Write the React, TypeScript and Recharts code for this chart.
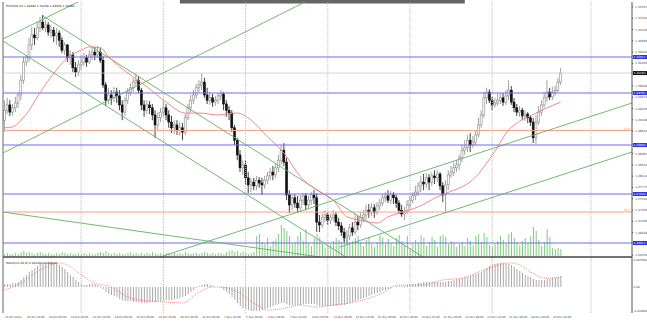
import React from 'react';
import { ComposedChart, Bar, Line, XAxis, YAxis, ReferenceLine, ReferenceArea } from 'recharts';

// ---------- DATA ----------
const SYMBOL_TITLE = 'EURUSD,H4 1.29990 1.30290 1.29930 1.30180';
const MACD_TITLE = 'MACD(12,26,9) 0.002200 0.002000';

// H4 bars, [open, high, low, close]; bar 0 = 15 Oct 2012 08:00
const OHLC: [number, number, number, number][] = [
  [1.2919,1.2961,1.2894,1.2940],[1.2940,1.2966,1.2932,1.2951],[1.2951,1.2961,1.2928,1.2936],[1.2936,1.2953,1.2928,1.2945],
  [1.2945,1.2968,1.2936,1.2955],[1.2955,1.2978,1.2945,1.2972],[1.2972,1.3014,1.2961,1.3003],[1.3003,1.3052,1.2995,1.3041],
  [1.3041,1.3056,1.3033,1.3050],[1.3050,1.3092,1.3041,1.3077],[1.3077,1.3115,1.3066,1.3098],[1.3098,1.3113,1.3077,1.3092],
  [1.3092,1.3125,1.3087,1.3113],[1.3113,1.3136,1.3104,1.3125],[1.3125,1.3140,1.3108,1.3113],[1.3113,1.3129,1.3104,1.3119],
  [1.3119,1.3125,1.3096,1.3104],[1.3104,1.3119,1.3092,1.3108],[1.3108,1.3115,1.3083,1.3096],[1.3096,1.3113,1.3077,1.3102],
  [1.3102,1.3108,1.3073,1.3087],[1.3087,1.3094,1.3060,1.3066],[1.3066,1.3083,1.3056,1.3077],[1.3077,1.3079,1.3041,1.3050],
  [1.3050,1.3066,1.3035,1.3056],[1.3056,1.3062,1.3020,1.3029],[1.3029,1.3041,1.3010,1.3020],[1.3020,1.3045,1.3012,1.3035],
  [1.3035,1.3056,1.3024,1.3041],[1.3041,1.3060,1.3033,1.3050],[1.3050,1.3056,1.3031,1.3041],[1.3041,1.3066,1.3037,1.3056],
  [1.3056,1.3071,1.3045,1.3062],[1.3062,1.3073,1.3045,1.3056],[1.3056,1.3075,1.3050,1.3062],[1.3062,1.3071,1.3039,1.3045],
  [1.3045,1.3054,1.2987,1.2993],[1.2993,1.2999,1.2949,1.2961],[1.2961,1.2987,1.2953,1.2972],[1.2972,1.2982,1.2951,1.2966],
  [1.2966,1.2989,1.2957,1.2978],[1.2978,1.2987,1.2955,1.2970],[1.2970,1.2982,1.2940,1.2951],[1.2951,1.2961,1.2919,1.2936],
  [1.2936,1.2968,1.2928,1.2961],[1.2961,1.2987,1.2953,1.2978],[1.2978,1.2997,1.2970,1.2987],[1.2987,1.3008,1.2978,1.2999],
  [1.2999,1.3018,1.2991,1.3003],[1.3003,1.3012,1.2976,1.2982],[1.2982,1.2987,1.2940,1.2951],[1.2951,1.2961,1.2926,1.2940],
  [1.2940,1.2961,1.2932,1.2951],[1.2951,1.2959,1.2932,1.2945],[1.2945,1.2953,1.2919,1.2930],[1.2930,1.2940,1.2882,1.2909],
  [1.2909,1.2936,1.2898,1.2924],[1.2924,1.2945,1.2915,1.2936],[1.2936,1.2961,1.2928,1.2945],[1.2945,1.2953,1.2919,1.2930],
  [1.2930,1.2940,1.2903,1.2915],[1.2915,1.2928,1.2892,1.2903],[1.2903,1.2919,1.2890,1.2909],[1.2909,1.2919,1.2888,1.2898],
  [1.2898,1.2915,1.2886,1.2903],[1.2903,1.2913,1.2877,1.2894],[1.2894,1.2932,1.2888,1.2924],[1.2924,1.2953,1.2919,1.2945],
  [1.2945,1.2972,1.2936,1.2961],[1.2961,1.2982,1.2953,1.2972],[1.2972,1.2995,1.2964,1.2987],[1.2987,1.3003,1.2978,1.2993],
  [1.2993,1.3018,1.2982,1.2999],[1.2999,1.3008,1.2966,1.2972],[1.2972,1.2987,1.2953,1.2961],[1.2961,1.2978,1.2951,1.2966],
  [1.2966,1.2974,1.2947,1.2957],[1.2957,1.2970,1.2949,1.2961],[1.2961,1.2976,1.2953,1.2970],[1.2970,1.2982,1.2961,1.2974],
  [1.2974,1.2978,1.2940,1.2953],[1.2953,1.2961,1.2926,1.2940],[1.2940,1.2949,1.2919,1.2934],[1.2934,1.2940,1.2894,1.2903],
  [1.2903,1.2909,1.2867,1.2877],[1.2877,1.2882,1.2835,1.2846],[1.2846,1.2856,1.2810,1.2819],[1.2819,1.2835,1.2804,1.2825],
  [1.2825,1.2835,1.2783,1.2798],[1.2798,1.2810,1.2766,1.2783],[1.2783,1.2798,1.2768,1.2789],[1.2789,1.2798,1.2772,1.2781],
  [1.2781,1.2802,1.2772,1.2793],[1.2793,1.2800,1.2777,1.2787],[1.2787,1.2798,1.2762,1.2783],[1.2783,1.2802,1.2775,1.2793],
  [1.2793,1.2810,1.2785,1.2802],[1.2802,1.2819,1.2793,1.2810],[1.2810,1.2823,1.2793,1.2804],[1.2804,1.2827,1.2798,1.2819],
  [1.2819,1.2846,1.2810,1.2835],[1.2835,1.2867,1.2825,1.2856],[1.2856,1.2871,1.2823,1.2831],[1.2831,1.2840,1.2751,1.2762],
  [1.2762,1.2772,1.2724,1.2741],[1.2741,1.2764,1.2730,1.2756],[1.2756,1.2764,1.2735,1.2745],[1.2745,1.2760,1.2724,1.2735],
  [1.2735,1.2762,1.2728,1.2751],[1.2751,1.2766,1.2741,1.2760],[1.2760,1.2766,1.2730,1.2741],[1.2741,1.2760,1.2735,1.2751],
  [1.2751,1.2768,1.2741,1.2762],[1.2762,1.2772,1.2743,1.2756],[1.2756,1.2766,1.2684,1.2705],[1.2705,1.2720,1.2684,1.2699],
  [1.2699,1.2724,1.2693,1.2714],[1.2714,1.2730,1.2705,1.2720],[1.2720,1.2726,1.2699,1.2709],[1.2709,1.2722,1.2701,1.2714],
  [1.2714,1.2730,1.2707,1.2720],[1.2720,1.2726,1.2697,1.2705],[1.2705,1.2714,1.2688,1.2697],[1.2697,1.2705,1.2676,1.2684],
  [1.2684,1.2693,1.2663,1.2672],[1.2672,1.2688,1.2661,1.2676],[1.2676,1.2701,1.2667,1.2693],[1.2693,1.2705,1.2676,1.2684],
  [1.2684,1.2722,1.2678,1.2705],[1.2705,1.2718,1.2688,1.2699],[1.2699,1.2726,1.2693,1.2714],[1.2714,1.2730,1.2705,1.2720],
  [1.2720,1.2741,1.2709,1.2730],[1.2730,1.2743,1.2714,1.2726],[1.2726,1.2745,1.2718,1.2735],[1.2735,1.2743,1.2714,1.2726],
  [1.2726,1.2747,1.2720,1.2739],[1.2739,1.2754,1.2730,1.2745],[1.2745,1.2764,1.2739,1.2756],[1.2756,1.2768,1.2747,1.2760],
  [1.2760,1.2772,1.2745,1.2751],[1.2751,1.2770,1.2743,1.2762],[1.2762,1.2768,1.2743,1.2756],[1.2756,1.2762,1.2735,1.2745],
  [1.2745,1.2751,1.2722,1.2730],[1.2730,1.2741,1.2716,1.2722],[1.2722,1.2737,1.2709,1.2726],[1.2726,1.2751,1.2722,1.2741],
  [1.2741,1.2760,1.2735,1.2751],[1.2751,1.2768,1.2745,1.2760],[1.2760,1.2781,1.2751,1.2768],[1.2768,1.2789,1.2760,1.2781],
  [1.2781,1.2802,1.2768,1.2789],[1.2789,1.2806,1.2772,1.2785],[1.2785,1.2808,1.2777,1.2798],[1.2798,1.2806,1.2772,1.2789],
  [1.2789,1.2810,1.2781,1.2802],[1.2802,1.2814,1.2785,1.2798],[1.2798,1.2814,1.2789,1.2806],[1.2806,1.2810,1.2772,1.2781],
  [1.2781,1.2789,1.2747,1.2762],[1.2762,1.2793,1.2724,1.2783],[1.2783,1.2814,1.2772,1.2804],[1.2804,1.2823,1.2798,1.2810],
  [1.2810,1.2831,1.2802,1.2819],[1.2819,1.2835,1.2810,1.2825],[1.2825,1.2846,1.2814,1.2840],[1.2840,1.2867,1.2831,1.2856],
  [1.2856,1.2877,1.2846,1.2861],[1.2861,1.2888,1.2852,1.2877],[1.2877,1.2892,1.2852,1.2867],[1.2867,1.2886,1.2861,1.2873],
  [1.2873,1.2898,1.2867,1.2888],[1.2888,1.2924,1.2882,1.2909],[1.2909,1.2940,1.2903,1.2930],[1.2930,1.2978,1.2924,1.2966],
  [1.2966,1.2987,1.2953,1.2978],[1.2978,1.2984,1.2955,1.2961],[1.2961,1.2968,1.2940,1.2951],[1.2951,1.2966,1.2945,1.2955],
  [1.2955,1.2974,1.2949,1.2961],[1.2961,1.2976,1.2953,1.2966],[1.2966,1.2976,1.2949,1.2957],[1.2957,1.2982,1.2951,1.2970],
  [1.2970,1.3003,1.2961,1.2982],[1.2982,1.2991,1.2951,1.2957],[1.2957,1.2966,1.2936,1.2945],[1.2945,1.2953,1.2928,1.2936],
  [1.2936,1.2949,1.2926,1.2940],[1.2940,1.2945,1.2919,1.2928],[1.2928,1.2940,1.2917,1.2932],[1.2932,1.2936,1.2913,1.2924],
  [1.2924,1.2928,1.2907,1.2915],[1.2915,1.2924,1.2871,1.2882],[1.2882,1.2930,1.2869,1.2915],[1.2915,1.2949,1.2909,1.2936],
  [1.2936,1.2961,1.2928,1.2951],[1.2951,1.2978,1.2945,1.2966],[1.2966,1.3003,1.2957,1.2978],[1.2978,1.2987,1.2961,1.2968],
  [1.2968,1.2989,1.2961,1.2978],[1.2978,1.2991,1.2970,1.2982],[1.2982,1.3008,1.2978,1.2999],[1.2999,1.3029,1.2993,1.3018],
];

const VOLUME: number[] = [
  1000,1500,1000,1000,1500,1000,2000,2500,1500,2000,1500,1000,1500,2000,1500,1000,1500,1000,1000,1500,1000,2000,1500,1000,1500,1000,1000,1500,
  1000,1500,1000,1500,1000,1000,1500,2000,1500,2500,1500,1000,1500,1000,1500,1000,1000,1500,2000,1000,1500,1000,1500,1000,1500,1000,2000,1500,1000,1500,
  1000,1500,1500,1000,1500,1000,1500,1000,2000,1500,1000,1500,1500,1000,1500,2000,1500,1000,1500,1000,1500,1500,1000,2000,2500,3000,2000,2500,1500,2000,1500,1000,1500,2000,
  10000,11000,7000,6000,9000,5000,7500,8500,11000,15500,
  14000,12500,10000,6000,7000,10000,12000,7500,13500,6500,
  5000,9000,11000,9500,6000,4000,5000,6000,7500,9000,
  8000,7000,11000,10000,6000,7500,9000,10000,7000,5000,
  8000,9500,6000,4500,7000,10500,9000,6000,8500,6500,
  5000,9000,10500,7500,5500,10000,4000,6000,8000,6500,
  10500,9000,5000,7000,9500,8000,4500,10000,10500,9500,
  6000,7500,6500,4500,6000,7000,5000,9000,7500,5500,
  10000,11000,7000,11500,9500,5500,4500,6000,7500,10000,
  8000,6000,11000,12000,9000,7000,5500,7500,9000,6500,
  10000,14500,12500,8000,5000,7000,13500,9500,4000,3500,
  4000,3500,
];

const MACD_MAIN: number[] = [
  0.0006,0.0006,0.0006,0.0008,0.0008,0.001,0.0014,0.002,0.0024,0.003,0.0034,0.0038,0.0042,0.0046,0.0048,0.005,0.005,0.005,0.0048,0.0046,
  0.0044,0.004,0.0036,0.003,0.0024,0.002,0.0014,0.001,0.0006,0.0004,0.0004,0.0006,0.0006,0.0006,0.0004,0.0002,-0.0004,-0.001,-0.0014,-0.0016,
  -0.0018,-0.002,-0.0024,-0.0026,-0.0028,-0.0028,-0.0028,-0.003,-0.003,-0.003,-0.0032,-0.0032,-0.0032,-0.003,-0.003,-0.003,-0.0028,-0.0028,-0.0026,-0.0026,
  -0.0026,-0.0026,-0.0024,-0.0024,-0.0022,-0.002,-0.0018,-0.0014,-0.001,-0.0006,-0.0002,0.0002,0.0004,0.0006,0.0006,0.0004,0.0002,0,0,-0.0002,
  -0.0006,-0.001,-0.0014,-0.002,-0.0026,-0.0032,-0.0038,-0.0042,-0.0044,-0.0046,-0.0048,-0.0048,-0.0048,-0.0048,-0.0046,-0.0044,-0.0042,-0.004,-0.0038,-0.0036,
  -0.0034,-0.0032,-0.0032,-0.0034,-0.0036,-0.0036,-0.0036,-0.0036,-0.0036,-0.0034,-0.0034,-0.0034,-0.0034,-0.0034,-0.0036,-0.0038,-0.0038,-0.0038,-0.0038,-0.0038,
  -0.0038,-0.0038,-0.0036,-0.0036,-0.0036,-0.0034,-0.0032,-0.003,-0.0028,-0.0026,-0.0024,-0.0022,-0.002,-0.0018,-0.0016,-0.0014,-0.0012,-0.001,-0.0008,-0.0006,
  -0.0004,-0.0002,0,0.0002,0.0002,0.0002,0.0002,0.0004,0.0004,0.0006,0.0006,0.0008,0.0008,0.001,0.001,0.001,0.001,0.001,0.001,0.001,
  0.001,0.001,0.0012,0.0012,0.0014,0.0016,0.0016,0.0018,0.002,0.002,0.0022,0.0024,0.0026,0.0028,0.003,0.0034,0.0038,0.0042,0.0044,0.0046,
  0.0048,0.0048,0.0048,0.0046,0.0046,0.0044,0.004,0.0036,0.0032,0.0028,0.0024,0.0022,0.002,0.0016,0.0014,0.0014,0.0014,0.0014,0.0016,0.0016,
  0.0018,0.0018,0.002,0.0022,
];

// signal line read at sample bars: [bar, value]
const MACD_SIGNAL: [number, number][] = [
  [0,-0.0006],[6,0.0008],[13,0.0034],[20,0.0048],[23,0.0044],[28,0.0024],[32,0.001],[39,0],[45,-0.002],[49,-0.0026],
  [59,-0.003],[65,-0.0032],[71,-0.001],[76,0],[79,0],[85,-0.001],[91,-0.0032],[96,-0.0046],[101,-0.0044],[108,-0.0036],
  [114,-0.004],[120,-0.0036],[126,-0.0032],[132,-0.0024],[138,-0.0012],[144,0.0004],[152,0.0004],[160,0.0014],[167,0.0018],
  [175,0.0034],[180,0.0044],[185,0.0048],[188,0.0044],[192,0.003],[197,0.0018],[200,0.0018],[203,0.002],
];

// moving average read at sample bars: [bar, price]
const MOVING_AVG: [number, number][] = [
  [0,1.2903],[3,1.2905],[6,1.2919],[9,1.2940],[12,1.2968],[17,1.3010],[23,1.3050],[28,1.3066],[31,1.3073],[35,1.3071],
  [38,1.3052],[42,1.3031],[47,1.3010],[52,1.2989],[59,1.2957],[66,1.2934],[71,1.2934],[78,1.2930],[85,1.2934],[90,1.2919],
  [96,1.2884],[102,1.2850],[108,1.2800],[114,1.2772],[120,1.2751],[125,1.2716],[130,1.2709],[136,1.2703],[140,1.2716],
  [144,1.2724],[151,1.2737],[158,1.2758],[164,1.2772],[167,1.2779],[172,1.2800],[176,1.2829],[180,1.2863],[183,1.2892],
  [187,1.2913],[191,1.2926],[194,1.2934],[198,1.2945],[203,1.2957],
];

const DATE_LABELS = [
  '15 Oct 2012','16 Oct 16:00','18 Oct 00:00','19 Oct 08:00','22 Oct 16:00','24 Oct 00:00','25 Oct 08:00','26 Oct 16:00',
  '30 Oct 00:00','31 Oct 08:00','1 Nov 16:00','5 Nov 00:00','6 Nov 08:00','7 Nov 16:00','9 Nov 00:00','12 Nov 08:00',
  '13 Nov 16:00','15 Nov 00:00','16 Nov 08:00','19 Nov 16:00','21 Nov 00:00','22 Nov 08:00','23 Nov 16:00','27 Nov 00:00',
  '28 Nov 08:00','29 Nov 16:00',
];
const BARS_PER_LABEL = 8;

const PRICE_TICKS = [
  1.31567,1.3133,1.31093,1.30856,1.3062,1.30383,1.29909,1.29672,1.29435,1.29198,1.28961,
  1.28487,1.28251,1.28014,1.27777,1.2754,1.27303,1.27066,1.26829,1.26356,
];
const MACD_TICKS = [0.00539, 0, -0.0048];
const MACD_TICK_TEXT = ['0.005390', '0.00', '-0.004800'];

const SR_LEVELS = [1.30517, 1.29761, 1.28669, 1.2764, 1.26611];
const FIB_LEVELS = [1.28974, 1.27262];
const FIB_TEXT = ['23.6', '38.2'];
const BID = 1.3018;

// trendline anchors: [[bar, price], [bar, price]]
const TRENDLINES: [[number, number], [number, number]][] = [
  [[-0.55, 1.30895], [28.28, 1.31714]],
  [[-0.55, 1.28501], [111.13, 1.31714]],
  [[14.05, 1.31378], [152.74, 1.26317]],
  [[-0.55, 1.30853], [124.64, 1.26317]],
  [[-0.55, 1.27262], [115.15, 1.26317]],
  [[56.75, 1.26317], [229.0, 1.29551]],
  [[122.45, 1.26527], [229.0, 1.28522]],
];
const WEEK_GRID = [28, 58, 88, 118, 148, 178, 214];

// ---------- AXIS SETUP ----------
const X_DOMAIN: [number, number] = [-0.547, 229.01];
const PRICE_DOMAIN: [number, number] = [1.25141, 1.31672];
const VOL_DOMAIN: [number, number] = [-28500, 127000];
const MACD_DOMAIN: [number, number] = [-0.0052, 0.057];
const PANE_SPLIT = 1.26317;

const FONT = 'DejaVu Sans, sans-serif';

const sigMap = new Map(MACD_SIGNAL);
const maMap = new Map(MOVING_AVG);
const rows = OHLC.map(([o, h, l, c], i) => ({
  i, o, h, l, c,
  range: [l, h],
  vol: VOLUME[i],
  macd: MACD_MAIN[i],
  sig: sigMap.has(i) ? sigMap.get(i) : null,
  ma: maMap.has(i) ? maMap.get(i) : null,
}));
const dateTicks = DATE_LABELS.map((_, k) => k * BARS_PER_LABEL);

function Candle(props: any) {
  const { x, y, width, height, payload } = props;
  if (!payload || x == null || y == null) return null;
  const top = Math.min(y, y + height);
  const hh = Math.abs(height);
  const { o, h, l, c } = payload;
  const span = h - l || 1e-9;
  const py = (v: number) => top + ((h - v) / span) * hh;
  const cx = x + width / 2;
  const up = c >= o;
  const bTop = py(Math.max(o, c));
  const bBot = py(Math.min(o, c));
  const col = up ? '#8a8a8a' : '#111';
  return (
    <g>
      <line x1={cx} x2={cx} y1={top} y2={top + hh} stroke={col} strokeWidth={0.8} />
      <rect x={cx - 1} y={bTop} width={2} height={Math.max(bBot - bTop, 0.7)} fill={up ? '#fff' : '#111'} stroke={col} strokeWidth={0.6} />
    </g>
  );
}

function PriceTick(props: any) {
  const { x, y, payload } = props;
  return (
    <text x={x} y={y + 1} fontSize={2.9} fill="#444" fontFamily={FONT}>
      {Number(payload.value).toFixed(5)}
    </text>
  );
}

function DateTick(props: any) {
  const { x, payload } = props;
  const label = DATE_LABELS[Math.round(payload.value / BARS_PER_LABEL)];
  return (
    <text x={x + 0.5} y={317.6} fontSize={2.7} fill="#444" fontFamily={FONT}>
      {label}
    </text>
  );
}

function BoxLabel(props: any) {
  const vb = props.viewBox || props;
  const { text, bg } = props;
  if (!vb || vb.x == null) return null;
  const x = vb.x + vb.width + 0.8;
  const y = vb.y;
  return (
    <g>
      <rect x={x} y={y - 2} width={16} height={4} fill={bg} />
      <text x={x + 0.8} y={y + 1.1} fontSize={2.9} fill="#fff" fontFamily={FONT}>{text}</text>
    </g>
  );
}

function FibLabel(props: any) {
  const vb = props.viewBox || props;
  if (!vb || vb.x == null) return null;
  return (
    <text x={vb.x + vb.width - 1.5} y={vb.y - 0.8} fontSize={3} fill="#f0846a" textAnchor="end" fontFamily={FONT}>
      {props.text}
    </text>
  );
}

function SideLabel(props: any) {
  const vb = props.viewBox || props;
  if (!vb || vb.x == null) return null;
  return (
    <text x={vb.x + vb.width + 1.5} y={vb.y + 1} fontSize={2.9} fill="#444" fontFamily={FONT}>
      {props.text}
    </text>
  );
}

export default function App() {
  return (
    <div style={{ position: 'absolute', left: 0, top: 0, width: 647, height: 324, background: '#fff' }}>
      <ComposedChart
        width={647}
        height={324}
        data={rows}
        margin={{ top: 2, right: 0, bottom: 0, left: 3 }}
      >
        <XAxis
          xAxisId="main" dataKey="i" type="number" domain={X_DOMAIN} allowDataOverflow
          ticks={dateTicks} interval={0} height={11} tick={<DateTick />} tickSize={1.5} tickMargin={0}
          axisLine={{ stroke: '#555' }} tickLine={{ stroke: '#555' }}
        />
        <XAxis xAxisId="vol" dataKey="i" type="number" domain={X_DOMAIN} allowDataOverflow hide />
        <XAxis xAxisId="macd" dataKey="i" type="number" domain={X_DOMAIN} allowDataOverflow hide />
        <YAxis
          yAxisId="price" orientation="right" type="number" domain={PRICE_DOMAIN} allowDataOverflow
          ticks={PRICE_TICKS} interval={0} width={15} tick={<PriceTick />} tickSize={1.2}
          axisLine={{ stroke: '#555' }} tickLine={{ stroke: '#555' }}
        />
        <YAxis yAxisId="vol" type="number" domain={VOL_DOMAIN} allowDataOverflow hide />
        <YAxis yAxisId="macd" type="number" domain={MACD_DOMAIN} allowDataOverflow hide />

        {WEEK_GRID.map((g) => (
          <ReferenceLine key={'g' + g} xAxisId="main" yAxisId="price" x={g} stroke="#b0b0b0" strokeDasharray="1 1" strokeWidth={0.8} />
        ))}
        <ReferenceLine xAxisId="main" yAxisId="price" x={X_DOMAIN[0]} stroke="#666" strokeWidth={1} />
        <ReferenceArea
          xAxisId="main" yAxisId="price" x1={64} x2={168} y1={1.3164} y2={1.31714}
          fill="#4a4a4a" fillOpacity={0.85} stroke="none" ifOverflow="visible"
        />

        <ReferenceLine xAxisId="main" yAxisId="price" y={BID} stroke="#c9c9c9" strokeWidth={0.8}
          label={<BoxLabel text={BID.toFixed(5)} bg="#111" />} />
        {FIB_LEVELS.map((v, k) => (
          <ReferenceLine key={'f' + k} xAxisId="main" yAxisId="price" y={v} stroke="#f7a48c" strokeWidth={1.1}
            label={<FibLabel text={FIB_TEXT[k]} />} />
        ))}
        {SR_LEVELS.map((v, k) => (
          <ReferenceLine key={'s' + k} xAxisId="main" yAxisId="price" y={v} stroke="#6c6cf0" strokeWidth={1.2}
            label={<BoxLabel text={v.toFixed(5)} bg="#3030e8" />} />
        ))}

        <Bar xAxisId="vol" yAxisId="vol" dataKey="vol" barSize={1} fill="#7fcb7f" isAnimationActive={false} />
        <Bar xAxisId="macd" yAxisId="macd" dataKey="macd" barSize={1} fill="#a8a8a8" isAnimationActive={false} />

        {TRENDLINES.map(([a, b], k) => (
          <ReferenceLine
            key={'t' + k} xAxisId="main" yAxisId="price" ifOverflow="hidden"
            segment={[{ x: a[0], y: a[1] }, { x: b[0], y: b[1] }]}
            stroke="#62b062" strokeWidth={0.9}
          />
        ))}

        <Bar xAxisId="main" yAxisId="price" dataKey="range" barSize={3} shape={Candle} isAnimationActive={false} />
        <Line xAxisId="main" yAxisId="price" dataKey="ma" type="monotone" connectNulls dot={false}
          stroke="#f07a7a" strokeWidth={0.9} isAnimationActive={false} />
        <Line xAxisId="main" yAxisId="macd" dataKey="sig" type="monotone" connectNulls dot={false}
          stroke="#f05a5a" strokeWidth={0.9} strokeDasharray="0.8 1.2" isAnimationActive={false} />

        <ReferenceLine xAxisId="main" yAxisId="price" y={PANE_SPLIT} stroke="#444" strokeWidth={1.6} />
        {MACD_TICKS.map((v, k) => (
          <ReferenceLine key={'m' + k} xAxisId="main" yAxisId="macd" y={v} stroke="none" strokeOpacity={0}
            label={<SideLabel text={MACD_TICK_TEXT[k]} />} />
        ))}
      </ComposedChart>
      <svg width={647} height={324} style={{ position: 'absolute', left: 0, top: 0, pointerEvents: 'none' }}>
        <text x={6} y={7} fontSize={2.9} fill="#222" fontFamily={FONT}>{SYMBOL_TITLE}</text>
        <text x={6} y={263.5} fontSize={2.9} fill="#222" fontFamily={FONT}>{MACD_TITLE}</text>
      </svg>
    </div>
  );
}
